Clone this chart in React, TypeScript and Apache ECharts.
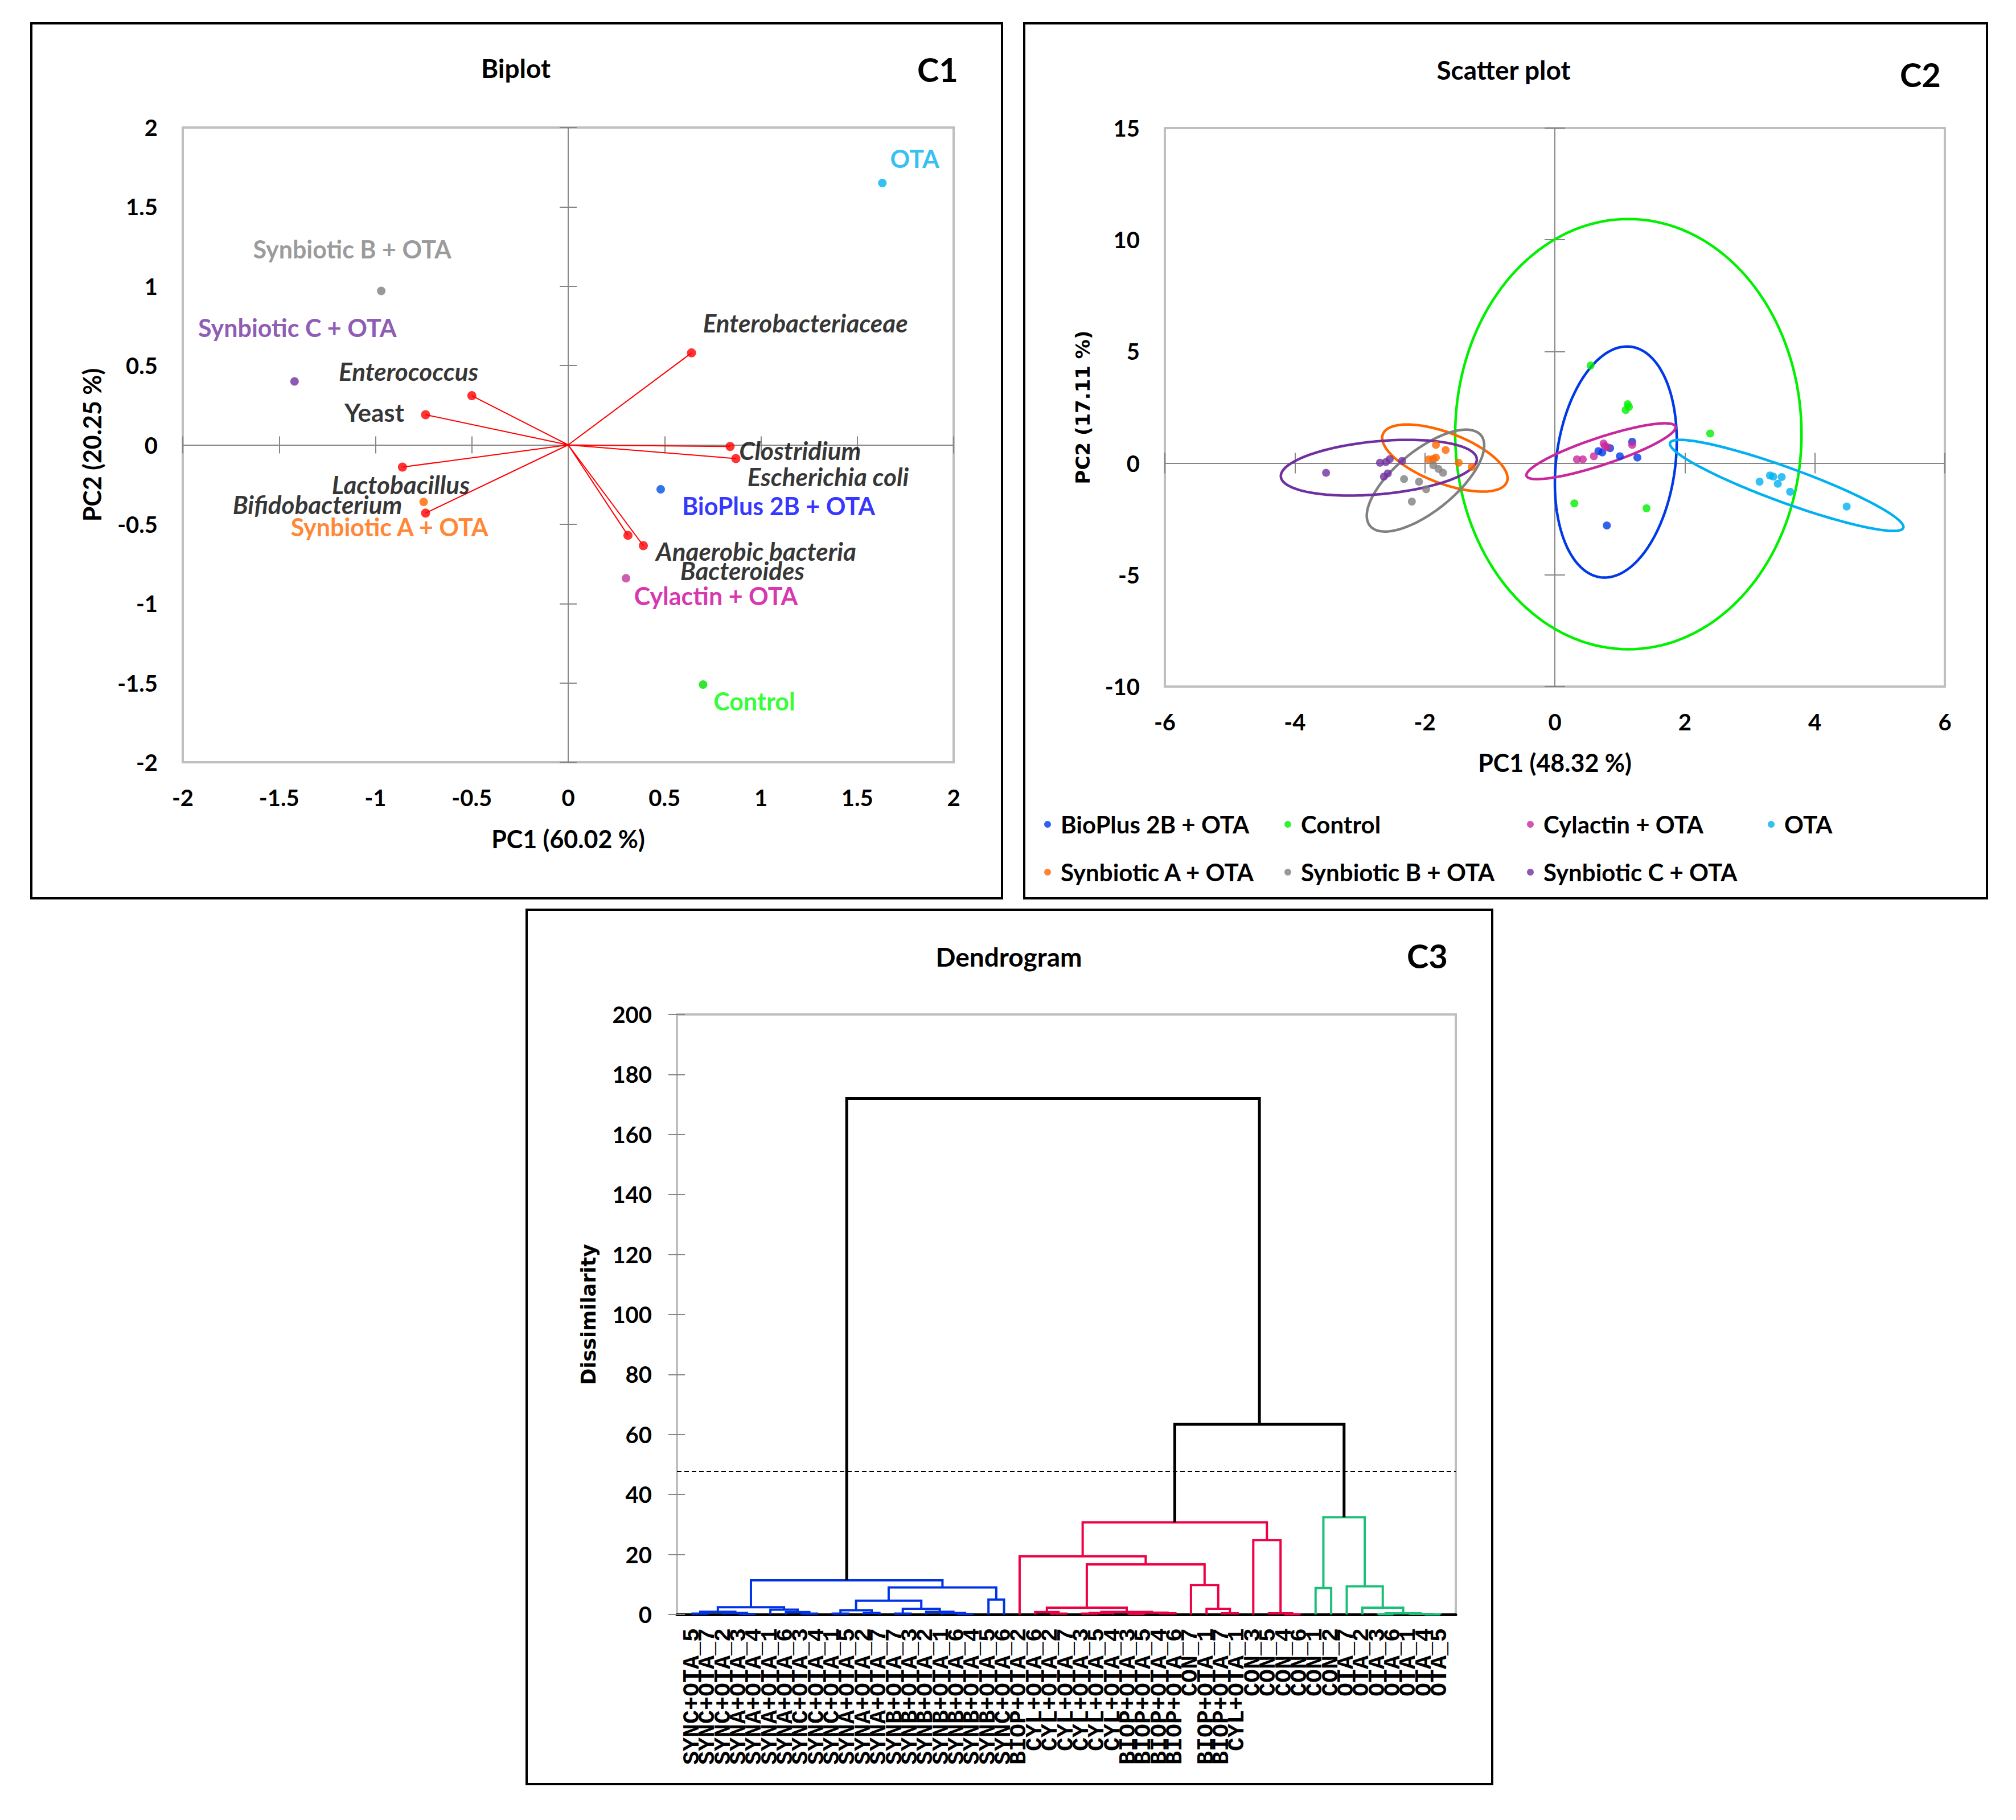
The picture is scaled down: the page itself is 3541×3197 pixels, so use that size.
import React, { useEffect, useRef } from "react";
import * as echarts from "echarts";

const FONT = 'Lato, "Open Sans", "Noto Sans", sans-serif';
const VFONT = '"DejaVu Sans", Verdana, sans-serif';
const MONO = '"Liberation Mono", "DejaVu Sans Mono", monospace';

// ---------------- C1 : Biplot ----------------
const variableNames = ["Enterococcus", "Yeast", "Lactobacillus", "Bifidobacterium", "Enterobacteriaceae", "Clostridium", "Escherichia coli", "Anaerobic bacteria", "Bacteroides"];
const variablePC1 = [-0.5, -0.74, -0.86, -0.74, 0.64, 0.84, 0.87, 0.39, 0.31];
const variablePC2 = [0.31, 0.19, -0.14, -0.43, 0.58, -0.01, -0.086, -0.635, -0.57];

const biplotGroups = ["Synbiotic B + OTA", "Synbiotic C + OTA", "Synbiotic A + OTA", "OTA", "BioPlus 2B + OTA", "Cylactin + OTA", "Control"];
const biplotGroupPC1 = [-0.97, -1.42, -0.75, 1.63, 0.48, 0.3, 0.7];
const biplotGroupPC2 = [0.97, 0.4, -0.36, 1.65, -0.28, -0.84, -1.51];
const biplotAxis = { min: -2, max: 2, interval: 0.5 };

// ---------------- C2 : Scatter plot ----------------
const scatterGroups = ["BioPlus 2B + OTA", "Control", "Cylactin + OTA", "OTA", "Synbiotic A + OTA", "Synbiotic B + OTA", "Synbiotic C + OTA"];
const bioplusScores = [[0.67, 0.54], [0.85, 0.67], [1.0, 0.31], [1.27, 0.25], [0.8, -2.79], [1.19, 0.96], [0.73, 0.48]];
const controlScores = [[0.55, 4.37], [1.12, 2.64], [1.09, 2.38], [2.39, 1.33], [0.3, -1.8], [1.41, -2.02], [1.14, 2.52]];
const cylactinScores = [[0.34, 0.17], [0.43, 0.17], [0.6, 0.31], [0.75, 0.88], [0.81, 0.71], [1.19, 0.82], [0.77, 0.76]];
const otaScores = [[3.31, -0.55], [3.49, -0.62], [3.15, -0.83], [3.43, -0.92], [3.62, -1.28], [4.49, -1.94], [3.36, -0.6]];
const synAScores = [[-1.83, 0.82], [-1.68, 0.59], [-1.83, 0.25], [-1.94, 0.17], [-1.48, 0.02], [-1.28, -0.17], [-1.87, 0.19]];
const synBScores = [[-1.87, -0.09], [-1.79, -0.26], [-1.72, -0.43], [-2.32, -0.71], [-2.09, -0.83], [-1.98, -1.17], [-2.2, -1.72]];
const synCScores = [[-3.52, -0.43], [-2.69, 0.02], [-2.54, 0.18], [-2.35, 0.1], [-2.63, -0.6], [-2.57, -0.46], [-2.6, 0.05]];
const scatterScores = [bioplusScores, controlScores, cylactinScores, otaScores, synAScores, synBScores, synCScores];
// confidence ellipses: centre, end of first semi-axis, end of second semi-axis
const ellipseCentres = [[0.938, 0.051], [1.131, 1.3], [0.71, 0.535], [3.567, -0.994], [-1.692, 0.229], [-1.99, -0.78], [-2.708, -0.204]];
const ellipseAxisA = [[1.172, 5.212], [1.131, 10.93], [1.856, 1.641], [5.361, -2.895], [-0.738, -0.838], [-1.136, 1.246], [-1.201, 0.196]];
const ellipseAxisB = [[1.846, -0.298], [3.795, 1.3], [0.777, -0.046], [3.475, -1.728], [-1.832, -0.828], [-1.695, -1.827], [-2.671, -1.386]];
const scatterX = { min: -6, max: 6, interval: 2 };
const scatterY = { min: -10, max: 15, interval: 5 };

// ---------------- C3 : Dendrogram ----------------
const leafLabels = [
  "SYNC+OTA_5", "SYNC+OTA_7", "SYNC+OTA_2", "SYNA+OTA_3", "SYNA+OTA_4", "SYNA+OTA_1", "SYNA+OTA_6", "SYNC+OTA_3", "SYNC+OTA_4", "SYNC+OTA_1", "SYNA+OTA_5", "SYNA+OTA_2", "SYNA+OTA_7", "SYNB+OTA_7", "SYNB+OTA_3", "SYNB+OTA_2", "SYNB+OTA_1", "SYNB+OTA_6", "SYNB+OTA_4", "SYNB+OTA_5", "SYNC+OTA_6",
  "BIOP+OTA_2", "CYL+OTA_6", "CYL+OTA_2", "CYL+OTA_7", "CYL+OTA_3", "CYL+OTA_5", "CYL+OTA_4", "BIOP+OTA_3", "BIOP+OTA_5", "BIOP+OTA_4", "BIOP+OTA_6", "CON_7", "BIOP+OTA_1", "BIOP+OTA_7", "CYL+OTA_1", "CON_3", "CON_5", "CON_4", "CON_6", "CON_1", "CON_2",
  "OTA_7", "OTA_2", "OTA_3", "OTA_6", "OTA_1", "OTA_4", "OTA_5",
];
// linkage: [left, right, dissimilarity]; positive = leaf position (1-based), negative = earlier merge (1-based)
const linkage = [
  [1, 2, 0.3], [4, 5, 0.2], [3, -2, 0.5], [-1, -3, 0.9], [8, 9, 0.3], [7, -5, 0.8], [6, -6, 1.6], [-4, -7, 2.4],
  [10, 11, 0.3], [12, 13, 0.5], [-9, -10, 1.4], [14, 15, 0.3], [18, 19, 0.2], [17, -13, 0.5], [16, -14, 0.9], [-12, -15, 1.9],
  [-11, -16, 4.6], [20, 21, 5.0], [-17, -18, 9.0], [-8, -19, 11.4],
  [24, 25, 0.3], [23, -21, 0.8], [26, 27, 0.3], [-23, 28, 0.5], [29, 30, 0.2], [31, 32, 0.4], [-25, -26, 0.6], [-24, -27, 0.84],
  [-22, -28, 2.3], [35, 36, 0.4], [34, -30, 1.9], [33, -31, 9.8], [-29, -32, 16.7], [22, -33, 19.4], [39, 40, 0.1], [38, -35, 0.4],
  [37, -36, 24.8], [-34, -37, 30.7],
  [41, 42, 8.8], [45, 46, 0.1], [48, 49, 0.05], [47, -41, 0.2], [-40, -42, 0.4], [44, -43, 2.3], [43, -44, 9.4], [-39, -45, 32.4],
  [-38, -46, 63.4], [-20, -47, 172],
];
const truncationLevel = 47.6;
const dendroY = { min: 0, max: 200, interval: 20 };

// ---------------- styling / layout ----------------
const biplotGroupText = ["#808080", "#7030a0", "#ff6600", "#00b0f0", "#0000ff", "#cc0099", "#00ff00"];
const biplotGroupDot = ["#808080", "#7030a0", "#ff6600", "#00b0f0", "#0050e6", "#c0389a", "#00e000"];
const scatterColors = ["#0039e6", "#00f000", "#c8289b", "#00b0f0", "#ff6600", "#808080", "#7030a0"];
const clusterColors = ["#0033e6", "#ee0044", "#1cbf78"];
const variableLabelOffset = [[-111, -43], [-90, -5], [-3, 30], [-190, -15], [200, -53], [123, 7], [162, 32], [198, 9], [201, 62]];
const variableItalic = [true, false, true, true, true, true, true, true, true];
const groupLabelOffset = [[-51, -74], [5, -95], [-60, 44], [57, -43], [207, 29], [158, 31], [90, 29]];
const legendCols = [1834, 2256, 2682, 3105];
const legendRows = [1427, 1511];

const GRID1 = { left: 321, top: 224, width: 1354, height: 1115 };
const GRID2 = { left: 2046, top: 225, width: 1370, height: 981 };
const GRID3 = { left: 1189, top: 1782, width: 1368, height: 1054 };
const AXIS_GRAY = "#868686";

function buildDendrogram() {
  const N = leafLabels.length;
  const nodes: any[] = [];
  for (let i = 0; i < N; i++) nodes.push({ x: i + 1, h: 0 });
  const ref = (r: number) => (r > 0 ? r - 1 : N + (-r - 1));
  linkage.forEach(([a, b, h]) => {
    const ia = ref(a), ib = ref(b);
    nodes.push({ x: (nodes[ia].x + nodes[ib].x) / 2, h, children: [ia, ib] });
  });
  const parent = new Array(nodes.length).fill(-1);
  nodes.forEach((n, i) => { if (n.children) n.children.forEach((c: number) => (parent[c] = i)); });
  const colorIdx = new Array(nodes.length).fill(-1);
  const roots = nodes.map((_, i) => i)
    .filter((i) => nodes[i].h <= truncationLevel && parent[i] >= 0 && nodes[parent[i]].h > truncationLevel)
    .sort((p, q) => nodes[p].x - nodes[q].x);
  const paint = (i: number, c: number) => { colorIdx[i] = c; (nodes[i].children || []).forEach((k: number) => paint(k, c)); };
  roots.forEach((r, k) => paint(r, k));
  return nodes.map((n, i) => ({ n, i })).filter(({ n }) => n.children).map(({ n, i }) => {
    const [a, b] = n.children;
    return [nodes[a].x, nodes[a].h, nodes[b].x, nodes[b].h, n.h, colorIdx[i]];
  });
}

const tickFont = { fontSize: 40, fontWeight: "bold", fontFamily: FONT, color: "#000" };

function labelAxisX(grid: number, r: any, name: string, gap: number) {
  return {
    gridIndex: grid, type: "value", min: r.min, max: r.max, interval: r.interval, position: "bottom",
    axisLine: { show: false, onZero: false }, axisTick: { show: false }, splitLine: { show: false },
    axisLabel: { ...tickFont, margin: 42 },
    name, nameLocation: "middle", nameGap: gap,
    nameTextStyle: { fontSize: 43, fontWeight: "bold", fontFamily: FONT, color: "#000" },
  };
}
function labelAxisY(grid: number, r: any, name: string, gap: number, nameStyle: any) {
  return {
    gridIndex: grid, type: "value", min: r.min, max: r.max, interval: r.interval, position: "left",
    axisLine: { show: false, onZero: false }, axisTick: { show: false }, splitLine: { show: false },
    axisLabel: { ...tickFont, margin: 44 },
    name, nameLocation: "middle", nameGap: gap, nameRotate: 90, nameTextStyle: nameStyle,
  };
}
function zeroAxis(grid: number, r: any, pos: string, inside: boolean, len: number) {
  return {
    gridIndex: grid, type: "value", min: r.min, max: r.max, interval: r.interval, position: pos,
    axisLine: { show: true, onZero: true, lineStyle: { color: AXIS_GRAY, width: 2 } },
    axisTick: { show: true, inside, length: len, lineStyle: { color: AXIS_GRAY, width: 2 } },
    axisLabel: { show: false }, splitLine: { show: false },
  };
}

function buildOption() {
  const segs = buildDendrogram();
  const gridStyle = { show: true, borderColor: "#bfbfbf", borderWidth: 4, backgroundColor: "transparent" };

  // arrows of the biplot (origin -> loading), separated by gaps
  const arrowData: any[] = [];
  variableNames.forEach((_, i) => {
    arrowData.push([0, 0], [variablePC1[i], variablePC2[i]], "-");
  });

  const series: any[] = [
    {
      type: "line", xAxisIndex: 0, yAxisIndex: 0, data: arrowData, showSymbol: false, symbol: "none",
      connectNulls: false, lineStyle: { color: "#ff0000", width: 2 }, silent: true, z: 3,
    },
    {
      type: "scatter", name: "variables", xAxisIndex: 0, yAxisIndex: 0, symbolSize: 16, z: 4,
      itemStyle: { color: "#ff0000" },
      data: variableNames.map((nm, i) => ({
        name: nm, value: [variablePC1[i], variablePC2[i]],
        label: {
          show: true, formatter: nm, position: "inside", offset: variableLabelOffset[i],
          fontSize: 44, fontWeight: "bold", fontStyle: variableItalic[i] ? "italic" : "normal",
          fontFamily: FONT, color: "#000",
        },
      })),
    },
    {
      type: "scatter", name: "groups", xAxisIndex: 0, yAxisIndex: 0, symbolSize: 15, z: 4,
      data: biplotGroups.map((nm, i) => ({
        name: nm, value: [biplotGroupPC1[i], biplotGroupPC2[i]],
        itemStyle: { color: biplotGroupDot[i] },
        label: {
          show: true, formatter: nm, position: "inside", offset: groupLabelOffset[i],
          fontSize: 43, fontWeight: "bold", fontFamily: FONT, color: biplotGroupText[i],
        },
      })),
    },
    {
      type: "custom", name: "ellipses", xAxisIndex: 3, yAxisIndex: 3, z: 2, silent: true,
      data: ellipseCentres.map((c, i) => [c[0], c[1], ellipseAxisA[i][0], ellipseAxisA[i][1], ellipseAxisB[i][0], ellipseAxisB[i][1], i]),
      encode: { x: [0, 2, 4], y: [1, 3, 5] },
      renderItem: (params: any, api: any) => {
        const c = api.coord([api.value(0), api.value(1)]);
        const a = api.coord([api.value(2), api.value(3)]);
        const b = api.coord([api.value(4), api.value(5)]);
        const u = [a[0] - c[0], a[1] - c[1]];
        const v = [b[0] - c[0], b[1] - c[1]];
        const pts: number[][] = [];
        const steps = 160;
        for (let k = 0; k <= steps; k++) {
          const t = (k / steps) * Math.PI * 2;
          pts.push([c[0] + u[0] * Math.cos(t) + v[0] * Math.sin(t), c[1] + u[1] * Math.cos(t) + v[1] * Math.sin(t)]);
        }
        return { type: "polyline", shape: { points: pts }, style: { fill: "none", stroke: scatterColors[api.value(6)], lineWidth: 4.5 } };
      },
    },
    ...scatterGroups.map((g, i) => ({
      type: "scatter", name: g, xAxisIndex: 3, yAxisIndex: 3, symbolSize: 14, z: 4,
      itemStyle: { color: scatterColors[i] }, data: scatterScores[i],
    })),
    {
      type: "custom", name: "dendrogram", xAxisIndex: 6, yAxisIndex: 6, z: 3, silent: true,
      data: segs, encode: { x: [0, 2], y: [1, 3, 4] },
      renderItem: (params: any, api: any) => {
        const p1 = api.coord([api.value(0), api.value(1)]);
        const p2 = api.coord([api.value(0), api.value(4)]);
        const p3 = api.coord([api.value(2), api.value(4)]);
        const p4 = api.coord([api.value(2), api.value(3)]);
        const ci = api.value(5);
        return {
          type: "polyline", shape: { points: [p1, p2, p3, p4] },
          style: { fill: "none", stroke: ci < 0 ? "#000" : clusterColors[ci], lineWidth: ci < 0 ? 5 : 4 },
        };
      },
      markLine: {
        silent: true, symbol: ["none", "none"], label: { show: false },
        lineStyle: { color: "#000", type: [8, 5], width: 2 },
        data: [{ yAxis: truncationLevel }],
      },
    },
  ];

  const legends = scatterGroups.map((g, i) => ({
    data: [g], left: legendCols[i < 4 ? i : i - 4], top: legendRows[i < 4 ? 0 : 1], padding: 0,
    orient: "horizontal", icon: "circle", itemWidth: 36, itemHeight: 12, selectedMode: false,
    textStyle: { fontSize: 42, fontWeight: "bold", fontFamily: FONT, color: "#000" },
  }));

  const text = (t: string, x: number, y: number, size: number) => ({
    type: "text", x, y, silent: true,
    style: { text: t, font: `bold ${size}px ${FONT}`, fill: "#000", align: "center", verticalAlign: "middle", textAlign: "center", textVerticalAlign: "middle" },
  });
  const frame = (x: number, y: number, w: number, h: number) => ({
    type: "rect", silent: true, shape: { x, y, width: w, height: h }, style: { fill: "none", stroke: "#000", lineWidth: 4 },
  });

  return {
    animation: false,
    backgroundColor: "#fff",
    grid: [
      { ...GRID1, ...gridStyle },
      { ...GRID2, ...gridStyle },
      { ...GRID3, ...gridStyle },
    ],
    xAxis: [
      labelAxisX(0, biplotAxis, "PC1 (60.02 %)", 113),
      zeroAxis(0, biplotAxis, "bottom", false, 15),
      zeroAxis(0, biplotAxis, "bottom", true, 15),
      labelAxisX(1, scatterX, "PC1 (48.32 %)", 112),
      zeroAxis(1, scatterX, "bottom", false, 18),
      zeroAxis(1, scatterX, "bottom", true, 18),
      {
        gridIndex: 2, type: "value", min: 0, max: leafLabels.length + 1, interval: 1, position: "bottom",
        axisLine: { show: true, onZero: false, lineStyle: { color: "#000", width: 5 } },
        axisTick: { show: false }, splitLine: { show: false },
        axisLabel: {
          rotate: 90, margin: 24, fontSize: 40, fontWeight: "bold", fontFamily: MONO, color: "#000",
          formatter: (v: number) => leafLabels[Math.round(v) - 1] || "",
        },
      },
    ],
    yAxis: [
      labelAxisY(0, biplotAxis, "PC2 (20.25 %)", 138, { fontSize: 43, fontWeight: "bold", fontFamily: FONT, color: "#000" }),
      zeroAxis(0, biplotAxis, "left", false, 15),
      zeroAxis(0, biplotAxis, "left", true, 15),
      labelAxisY(1, scatterY, "PC2 (17.11 %)", 127, { fontSize: 34, fontWeight: "bold", fontFamily: VFONT, color: "#000" }),
      zeroAxis(1, scatterY, "left", false, 18),
      zeroAxis(1, scatterY, "left", true, 18),
      {
        gridIndex: 2, type: "value", min: dendroY.min, max: dendroY.max, interval: dendroY.interval, position: "left",
        axisLine: { show: false, onZero: false }, splitLine: { show: false },
        axisTick: { show: true, inside: false, length: 15, lineStyle: { color: AXIS_GRAY, width: 2 } },
        axisLabel: { ...tickFont, margin: 44 },
        name: "Dissimilarity", nameLocation: "middle", nameGap: 138, nameRotate: 90,
        nameTextStyle: { fontSize: 35, fontWeight: "bold", fontFamily: VFONT, color: "#000" },
      },
      {
        gridIndex: 2, type: "value", min: dendroY.min, max: dendroY.max, interval: dendroY.interval, position: "left",
        axisLine: { show: false, onZero: false }, splitLine: { show: false }, axisLabel: { show: false },
        axisTick: { show: true, inside: true, length: 14, lineStyle: { color: AXIS_GRAY, width: 2 } },
      },
    ],
    legend: legends,
    series,
    graphic: [
      frame(55, 41, 1705, 1537),
      frame(1799, 41, 1691, 1537),
      frame(925, 1598, 1696, 1536),
      text("Biplot", 906, 119, 46),
      text("C1", 1647, 121, 58),
      text("Scatter plot", 2641, 122, 46),
      text("C2", 3373, 130, 58),
      text("Dendrogram", 1772, 1680, 46),
      text("C3", 2507, 1678, 58),
    ],
  };
}

export default function App() {
  const ref = useRef<HTMLDivElement>(null);
  useEffect(() => {
    document.body.style.margin = "0";
    if (!ref.current) return;
    const chart = echarts.init(ref.current, undefined, { renderer: "svg" });
    chart.setOption(buildOption() as any);
    return () => chart.dispose();
  }, []);
  return <div ref={ref} style={{ width: 3541, height: 3197, background: "#fff" }} />;
}
